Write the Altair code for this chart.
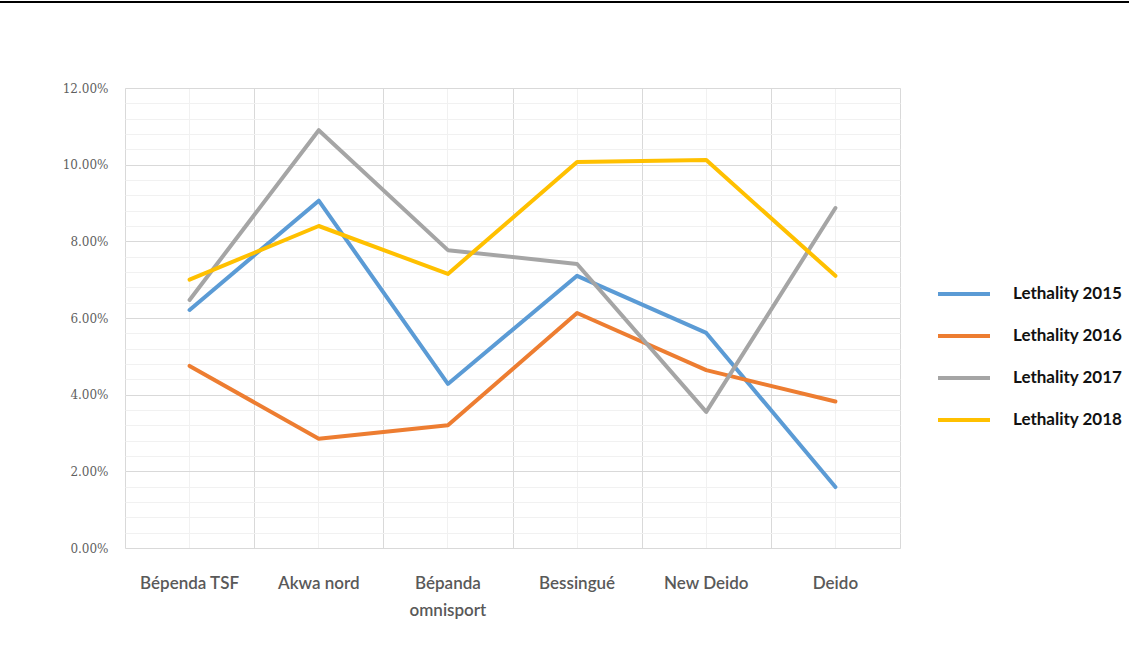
import altair as alt
import pandas as pd

districts = ["Bépenda TSF", "Akwa nord", "Bépanda omnisport", "Bessingué", "New Deido", "Deido"]
series_names = ["Lethality 2015", "Lethality 2016", "Lethality 2017", "Lethality 2018"]
lethality_1 = [0.0621, 0.0906, 0.0428, 0.0710, 0.0561, 0.0159]
lethality_2 = [0.0475, 0.0285, 0.0320, 0.0613, 0.0464, 0.0382]
lethality_3 = [0.0647, 0.1090, 0.0777, 0.0741, 0.0355, 0.0887]
lethality_4 = [0.0700, 0.0840, 0.0715, 0.1007, 0.1012, 0.0710]
colors = ["#5B9BD5", "#ED7D31", "#A5A5A5", "#FFC000"]
major_ticks = [0.0, 0.02, 0.04, 0.06, 0.08, 0.10, 0.12]
minor_ticks = [0.004 * i for i in range(31)]

rows = []
for name, vals in zip(series_names, [lethality_1, lethality_2, lethality_3, lethality_4]):
    for d, v in zip(districts, vals):
        rows.append({"district": d, "value": v, "series": name})
df = pd.DataFrame(rows)

xscale = alt.Scale(domain=districts, paddingInner=0, paddingOuter=0)
yscale = alt.Scale(domain=[0, 0.12], nice=False)

color = alt.Color(
    "series:N",
    scale=alt.Scale(domain=series_names, range=colors),
    legend=alt.Legend(
        title=None,
        orient="none",
        legendX=811,
        legendY=178,
        symbolType="stroke",
        symbolSize=2704,
        symbolStrokeWidth=4,
        labelFont="Lato",
        labelFontWeight="bold",
        labelFontSize=17,
        labelColor="#111111",
        labelOffset=21,
        rowPadding=6,
        padding=0,
    ),
)

lines = alt.Chart(df).mark_line(strokeWidth=4, strokeJoin="round", strokeCap="round").encode(
    x=alt.X(
        "district:N",
        sort=districts,
        scale=xscale,
        title=None,
        axis=alt.Axis(
            orient="bottom",
            labelAngle=0,
            labelFont="Lato",
            labelFontSize=17,
            labelFontWeight=600,
            labelColor="#595959",
            labelPadding=27,
            labelLimit=200,
            labelExpr="indexof(datum.label, 'omnisport') >= 0 ? split(datum.label, ' ') : datum.label",
            labelLineHeight=27,
            labelBaseline="top",
            ticks=False,
            domain=False,
            grid=True,
            gridColor="#f1f1f1",
            tickBand="center",
        ),
    ),
    y=alt.Y(
        "value:Q",
        scale=yscale,
        title=None,
        axis=alt.Axis(
            orient="left",
            values=major_ticks,
            format=".2%",
            labelFont="DejaVu Serif",
            labelFontSize=12,
            labelColor="#5f5f5f",
            labelPadding=17,
            ticks=False,
            domain=False,
            grid=True,
            gridColor="#d9d9d9",
        ),
    ),
    color=color,
)

grid_layer = alt.Chart(df).mark_line(strokeOpacity=0).encode(
    x=alt.X(
        "district:N",
        sort=districts,
        scale=xscale,
        title=None,
        axis=alt.Axis(
            orient="bottom",
            labels=False,
            ticks=False,
            domain=False,
            grid=True,
            gridColor="#d9d9d9",
            tickBand="extent",
        ),
    ),
    y=alt.Y(
        "value:Q",
        scale=yscale,
        title=None,
        axis=alt.Axis(
            orient="left",
            values=minor_ticks,
            labels=False,
            ticks=False,
            domain=False,
            grid=True,
            gridColor="#f1f1f1",
        ),
    ),
    detail="series:N",
)

top_rule = alt.Chart(pd.DataFrame({"a": [0]})).mark_rule(color="#000000", strokeWidth=2).encode(
    x=alt.value(-125), x2=alt.value(1004), y=alt.value(-86)
)

chart = (
    alt.layer(grid_layer, lines, top_rule)
    .resolve_scale(x="shared", y="shared")
    .resolve_axis(x="independent", y="independent")
    .properties(
        width=775,
        height=460,
        autosize=alt.AutoSizeParams(type="none"),
        padding={"left": 125, "top": 88, "right": 229, "bottom": 100},
    )
    .configure_view(stroke="#d9d9d9")
    .configure(background="white")
)

chart.save("out.html", embed_options={"renderer": "svg", "actions": False})
